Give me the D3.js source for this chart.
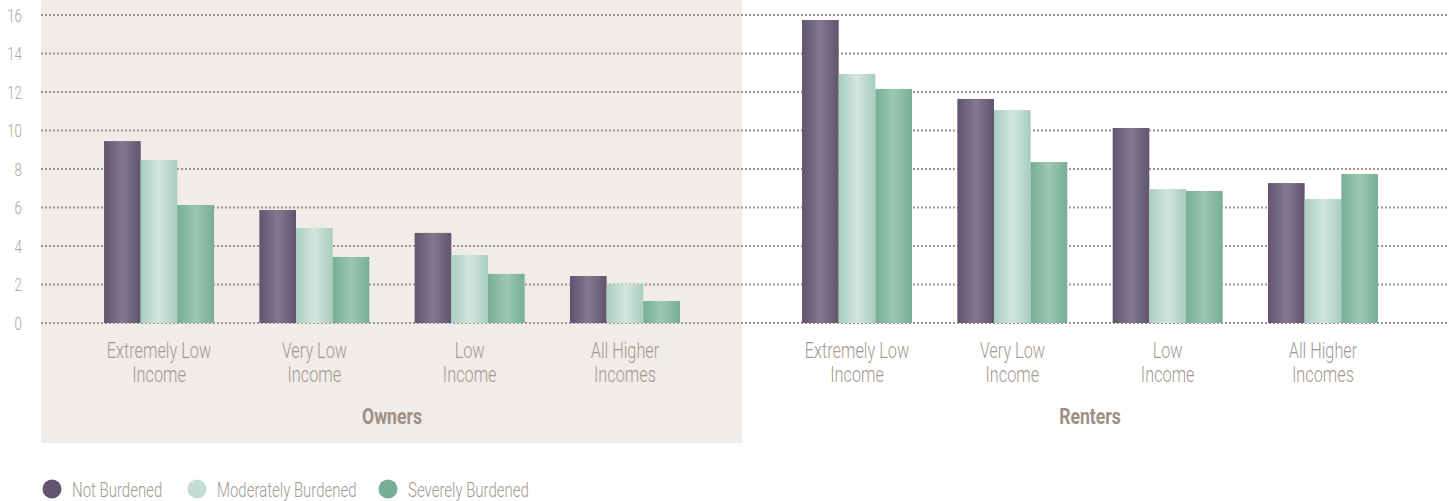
<!DOCTYPE html>
<html>
<head>
<meta charset="utf-8">
<script src="https://cdn.jsdelivr.net/npm/d3@7"></script>
<style>
  html, body { margin: 0; padding: 0; background: #ffffff; }
  svg { display: block; }
  text { font-family: Roboto, "Liberation Sans", sans-serif; }
</style>
</head>
<body>
<svg id="chart" width="1448" height="501"></svg>
<script>
// ---- data ----
const panels = ["Owners", "Renters"];
const categories = ["Extremely Low\nIncome", "Very Low\nIncome", "Low\nIncome", "All Higher\nIncomes"];
const series = ["Not Burdened", "Moderately Burdened", "Severely Burdened"];
const ownersNotBurdened      = [9.45, 5.87, 4.68, 2.44];
const ownersModerately       = [8.47, 4.94, 3.53, 2.03];
const ownersSeverely         = [6.13, 3.43, 2.55, 1.14];
const rentersNotBurdened     = [15.74, 11.64, 10.13, 7.27];
const rentersModerately      = [12.94, 11.06, 6.96, 6.44];
const rentersSeverely        = [12.16, 8.36, 6.86, 7.74];
const yTicks = [0, 2, 4, 6, 8, 10, 12, 14, 16];

const values = {
  Owners:  [ownersNotBurdened, ownersModerately, ownersSeverely],
  Renters: [rentersNotBurdened, rentersModerately, rentersSeverely]
};

// ---- styles ----
const seriesEdge   = ["#61546e", "#a8cdbf", "#77ae98"];
const seriesCenter = ["#82798f", "#d3e5dc", "#9dc6b4"];
const legendColor  = ["#62556f", "#c3ddd2", "#76ae98"];
const SX = 0.74;

const svg = d3.select("#chart");
const defs = svg.append("defs");
series.forEach((s, i) => {
  const g = defs.append("linearGradient").attr("id", "grad" + i)
    .attr("x1", "0%").attr("x2", "100%").attr("y1", "0%").attr("y2", "0%");
  g.append("stop").attr("offset", "0%").attr("stop-color", seriesEdge[i]);
  g.append("stop").attr("offset", "50%").attr("stop-color", seriesCenter[i]);
  g.append("stop").attr("offset", "100%").attr("stop-color", seriesEdge[i]);
});

// ---- scales ----
const y = d3.scaleLinear().domain([0, 16]).range([323, 15]);
const xPanel = d3.scaleBand().domain(panels).range([41, 41 + 698 * 2]).padding(0);
const x0 = d3.scaleBand().domain(categories).range([0, 702]).paddingInner(0.292).paddingOuter(0.406);
const x1 = d3.scaleBand().domain(series).range([0, x0.bandwidth()]).padding(0);

// background panel for owners
svg.append("rect")
  .attr("x", xPanel("Owners")).attr("y", 0)
  .attr("width", 701).attr("height", 443)
  .attr("fill", "#f0ece7");

// gridlines
svg.append("g").selectAll("line").data(yTicks).join("line")
  .attr("x1", 41).attr("x2", 1448)
  .attr("y1", d => y(d)).attr("y2", d => y(d))
  .attr("stroke", "#a0968c").attr("stroke-width", 2)
  .attr("stroke-dasharray", "2,2");

// y axis labels
const yAxis = d3.axisLeft(y).tickValues(yTicks).tickSize(0).tickPadding(0);
const yg = svg.append("g").attr("transform", "translate(22,0)").call(yAxis);
yg.select(".domain").remove();
yg.selectAll(".tick text")
  .attr("fill", "#b0a497")
  .style("font-size", "18px")
  .style("font-family", "Roboto, sans-serif")
  .style("font-weight", "300")
  .attr("x", 0)
  .attr("dy", "0.36em")
  .attr("text-anchor", "end")
  .attr("transform", `scale(${SX},1)`);

// bars
panels.forEach(p => {
  const gp = svg.append("g").attr("transform", `translate(${xPanel(p)},0)`);
  const groups = gp.selectAll("g.cat").data(categories).join("g")
    .attr("class", "cat")
    .attr("transform", d => `translate(${x0(d)},0)`);
  groups.selectAll("rect").data((c, ci) => series.map((s, si) => ({ s, si, v: values[p][si][ci] })))
    .join("rect")
    .attr("x", d => x1(d.s))
    .attr("width", x1.bandwidth())
    .attr("y", d => y(d.v))
    .attr("height", d => y(0) - y(d.v))
    .attr("fill", d => `url(#grad${d.si})`);

  // category labels
  groups.each(function(c) {
    const lines = c.split("\n");
    const cx = x0.bandwidth() / 2;
    lines.forEach((ln, li) => {
      d3.select(this).append("text")
        .attr("transform", `translate(${cx},${358 + li * 24}) scale(${SX},1)`)
        .attr("text-anchor", "middle")
        .attr("fill", "#a49a90")
        .style("font-size", "22px")
        .style("font-weight", "300")
        .text(ln);
    });
  });

  // panel label
  gp.append("text")
    .attr("transform", `translate(${351},424) scale(0.8,1)`)
    .attr("text-anchor", "middle")
    .attr("fill", "#9d9084")
    .style("font-size", "22px")
    .style("font-weight", "bold")
    .text(p);
});

// legend
const legendX = [52, 197, 388];
const lg = svg.append("g").selectAll("g").data(series).join("g")
  .attr("transform", (d, i) => `translate(${legendX[i]},489)`);
lg.append("circle").attr("r", 9.5).attr("fill", (d, i) => legendColor[i]);
lg.append("text")
  .attr("transform", `translate(20,7.5) scale(0.75,1)`)
  .attr("fill", "#a39a90")
  .style("font-size", "20px")
  .style("font-weight", "300")
  .text(d => d);
</script>
</body>
</html>
